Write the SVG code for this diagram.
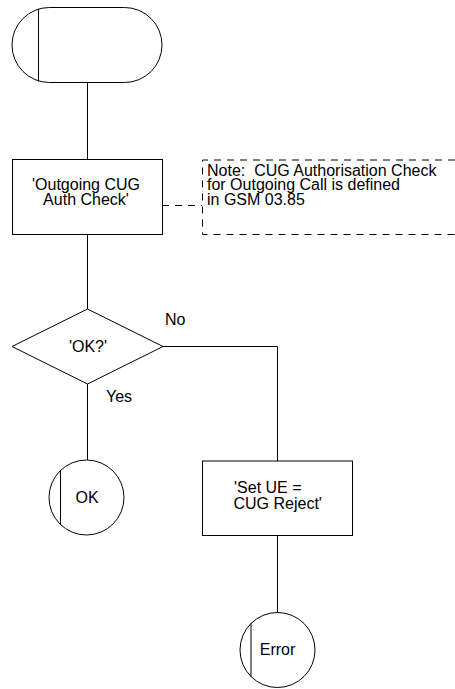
<svg xmlns="http://www.w3.org/2000/svg" width="455" height="689" viewBox="0 0 455 689">
<style>
.s{fill:#fff;stroke:#000;stroke-width:1}
.l{fill:none;stroke:#000;stroke-width:1}
.d{fill:none;stroke:#000;stroke-width:1;stroke-dasharray:7 6}
text{font-family:"Liberation Sans",Arial,sans-serif;font-size:16px;fill:#000;white-space:pre}
.c{text-anchor:middle}
</style>
<rect width="455" height="689" fill="#fff"/>
<g id="connectors">
<line class="l" x1="87.5" y1="82" x2="87.5" y2="159.5"/>
<line class="l" x1="87.5" y1="234.5" x2="87.5" y2="309"/>
<line class="l" x1="87.5" y1="384" x2="87.5" y2="460.5"/>
<polyline class="l" points="163,346.5 277.5,346.5 277.5,461"/>
<line class="l" x1="277.5" y1="535.5" x2="277.5" y2="612.5"/>
<line class="d" x1="162" y1="205.5" x2="202" y2="205.5"/>
<text x="165" y="325">No</text>
<text x="106" y="401.5">Yes</text>
</g>
<g id="start">
<path class="s" d="M49.5,7.5 H124.5 A37.5,37.5 0 0 1 124.5,82.5 H49.5 A37.5,37.5 0 0 1 49.5,7.5 Z"/>
<line class="l" x1="38.5" y1="8.6" x2="38.5" y2="81.4"/>
</g>
<g id="authcheck">
<rect class="s" x="12.5" y="159.5" width="150" height="75"/>
<text class="c" x="86" y="189.5">'Outgoing CUG</text>
<text class="c" x="86" y="204.5">Auth Check'</text>
</g>
<g id="note">
<polyline class="d" points="455,160 202.5,160 202.5,234.5 455,234.5"/>
<text x="207" y="175.5" xml:space="preserve">Note:  CUG Authorisation Check</text>
<text x="207" y="190">for Outgoing Call is defined</text>
<text x="207" y="204.5">in GSM 03.85</text>
</g>
<g id="okq">
<polygon class="s" points="87.5,309 163,346.5 87.5,384 12,346.5"/>
<text class="c" x="88" y="352">'OK?'</text>
</g>
<g id="ok">
<circle class="s" cx="86.5" cy="497.5" r="37.5"/>
<line class="l" x1="60.5" y1="470.5" x2="60.5" y2="524.5"/>
<text class="c" x="87" y="503">OK</text>
</g>
<g id="setue">
<rect class="s" x="202.5" y="461" width="150" height="74.5"/>
<text x="234" y="492.5">'Set UE =</text>
<text x="233.5" y="508.5">CUG Reject'</text>
</g>
<g id="error">
<circle class="s" cx="277.5" cy="650" r="37.5"/>
<line class="l" x1="251" y1="623" x2="251" y2="677"/>
<text class="c" x="277.5" y="655">Error</text>
</g>
</svg>
